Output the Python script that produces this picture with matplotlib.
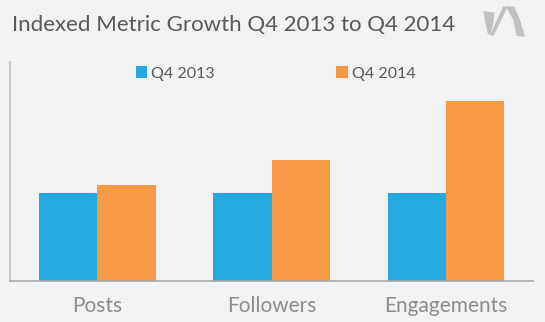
import matplotlib
matplotlib.use('Agg')
import matplotlib.pyplot as plt
import numpy as np
from matplotlib.patches import Polygon

# Indexed values (Q4 2013 = 100)
categories = ['Posts', 'Followers', 'Engagements']
q4_2013 = [100, 100, 100]
q4_2014 = [110, 138, 205]
series_names = ['Q4 2013', 'Q4 2014']

BLUE = '#25a9e0'
ORANGE = '#f89a45'
BG = '#f1f2f4'

plt.rcParams['font.family'] = ['Lato', 'DejaVu Sans']

fig = plt.figure(figsize=(5.45, 3.22), dpi=100)
fig.patch.set_facecolor(BG)
ax = fig.add_axes([0.019, 0.127, 0.959, 0.681])
ax.set_facecolor(BG)

x = np.arange(len(categories))
w = 0.335
ax.bar(x - w / 2, q4_2013, w, color=BLUE, label=series_names[0])
ax.bar(x + w / 2, q4_2014, w, color=ORANGE, label=series_names[1])

ax.set_xlim(-0.5, 2.5)
ax.set_ylim(0, 250)
ax.set_yticks([])
ax.set_xticks(x)
ax.set_xticklabels(categories, fontsize=15, color='#8c8c8c')
ax.tick_params(axis='x', length=0, pad=11)

for side in ['top', 'right']:
    ax.spines[side].set_visible(False)
ax.spines['left'].set_color('#c8c8c8')
ax.spines['left'].set_linewidth(1.5)
ax.spines['bottom'].set_color('#a8a8a8')
ax.spines['bottom'].set_linewidth(1.2)

ax.legend(ncol=2, loc='upper center', bbox_to_anchor=(0.508, 1.045), frameon=False,
          fontsize=11.5, labelcolor='#595959', handlelength=0.7, handleheight=0.7,
          handletextpad=0.3, columnspacing=7.6)

fig.text(0.022, 1 - 31 / 322, 'Indexed Metric Growth Q4 2013 to Q4 2014',
         fontsize=16, color='#595959', va='baseline', ha='left')

# small gray logo in the top right corner
logo_shapes = [
    [(25, 33), (58, 38), (55, 70), (45, 105), (38, 100), (30, 65)],
    [(85, 18), (97, 22), (72, 75), (55, 108), (45, 105), (62, 68)],
    [(92, 18), (118, 20), (135, 60), (150, 110), (125, 108), (115, 60)],
]
for pts in logo_shapes:
    xy = [((475 + px / 3) / 545, 1 - (py / 3) / 322) for px, py in pts]
    fig.patches.append(Polygon(xy, closed=True, transform=fig.transFigure,
                               facecolor='#bfc0c0', edgecolor='none'))

fig.savefig('out.png', dpi=100, facecolor=BG)
